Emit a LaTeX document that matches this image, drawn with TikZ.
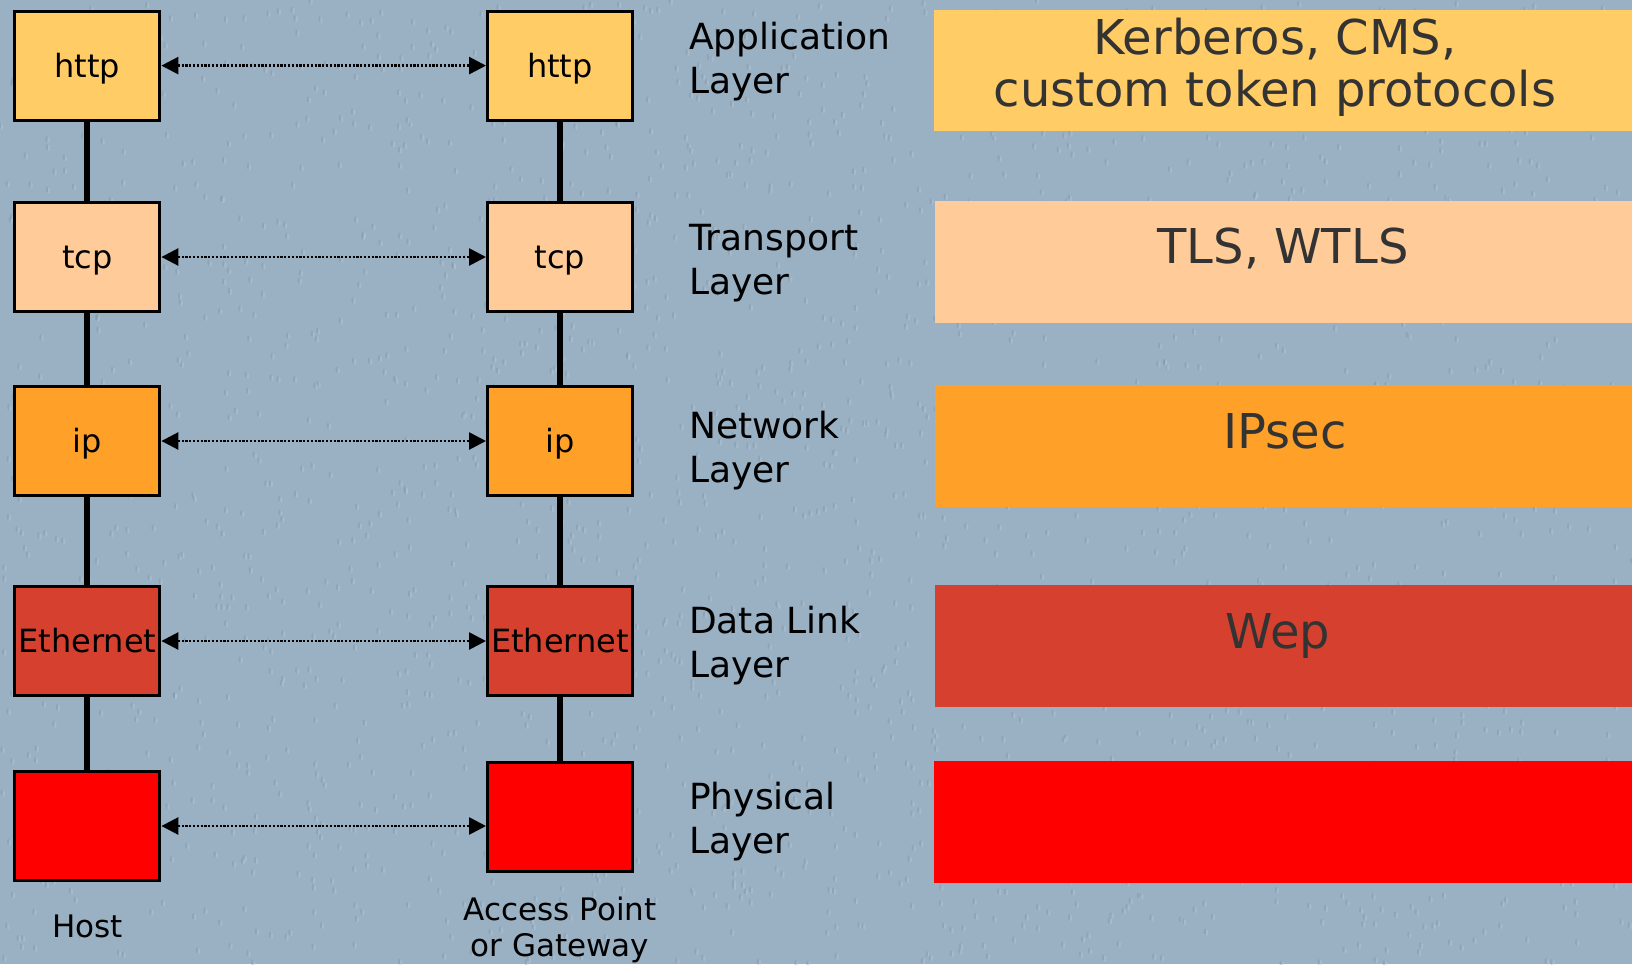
\documentclass[tikz,border=0pt]{standalone}
\usepackage{fontspec}
\setmainfont{DejaVu Sans}
\usetikzlibrary{arrows.meta}
\definecolor{bg}{RGB}{154,176,195}
\definecolor{speckdark}{RGB}{120,142,162}
\definecolor{specklight}{RGB}{190,206,220}
\definecolor{appc}{RGB}{255,204,102}
\definecolor{tcpc}{RGB}{255,204,153}
\definecolor{ipc}{RGB}{255,160,40}
\definecolor{ethc}{RGB}{214,64,46}
\definecolor{phyc}{RGB}{255,0,0}
\definecolor{textgray}{RGB}{51,51,51}
\tikzset{
  box/.style={draw=black, line width=3pt, minimum width=145pt, minimum height=109pt, inner sep=0pt, text height=23pt, text depth=0pt, font=\fontsize{32}{36}\selectfont},
  link/.style={line width=6pt},
  tipstyle/.style={line width=0pt, dash pattern=},
  peer/.style={line width=2.7pt, dash pattern=on 2.3pt off 1.5pt, {Triangle[length=17pt,width=17pt,sep=0pt]}-{Triangle[length=17pt,width=17pt,sep=0pt]}},
  bar/.style={inner sep=0pt, minimum width=698.4pt, minimum height=121.7pt, anchor=north west},
  layer/.style={anchor=west, align=left, inner sep=0pt, font=\fontsize{36}{44}\selectfont},
  bartext/.style={align=center, inner sep=0pt, text=textgray, font=\fontsize{48}{52}\selectfont},
  caption/.style={align=center, inner sep=0pt, font=\fontsize{31}{36.4}\selectfont}
}
\begin{document}
\begin{tikzpicture}[x=1pt,y=-1pt]
\fill[bg] (0,0) rectangle (1632,964);
\useasboundingbox (0,0) rectangle (1632,964);
% paper texture
\pgfmathsetseed{7}
\foreach \i in {1,...,2200}{
  \pgfmathsetmacro\xx{rnd*1632}
  \pgfmathsetmacro\yy{rnd*964}
  \fill[speckdark, opacity=0.35] (\xx,\yy) ellipse (1.2pt and 3pt);
  \fill[specklight, opacity=0.35] (\xx+2,\yy+1) ellipse (1.2pt and 3pt);
}

% host stack
\node[box, fill=appc] (hHttp) at (87.4,65.6) {http};
\node[box, fill=tcpc] (hTcp) at (87.4,257) {tcp};
\node[box, fill=ipc] (hIp) at (87.4,441) {ip};
\node[box, fill=ethc] (hEth) at (87.4,641) {Ethernet};
\node[box, fill=phyc] (hPhy) at (87.4,826) {};

% gateway stack
\node[box, fill=appc] (gHttp) at (560,65.6) {http};
\node[box, fill=tcpc] (gTcp) at (560,257) {tcp};
\node[box, fill=ipc] (gIp) at (560,441) {ip};
\node[box, fill=ethc] (gEth) at (560,641) {Ethernet};
\node[box, fill=phyc] (gPhy) at (560,817) {};

% vertical links
\draw[link] (hHttp) -- (hTcp);
\draw[link] (hTcp) -- (hIp);
\draw[link] (hIp) -- (hEth);
\draw[link] (hEth) -- (hPhy);
\draw[link] (gHttp) -- (gTcp);
\draw[link] (gTcp) -- (gIp);
\draw[link] (gIp) -- (gEth);
\draw[link] (gEth) -- (gPhy);

% peer arrows
\draw[peer] (hHttp.east) -- (gHttp.west);
\draw[peer] (hTcp.east) -- (gTcp.west);
\draw[peer] (hIp.east) -- (gIp.west);
\draw[peer] (hEth.east) -- (gEth.west);
\draw[peer] (hPhy.east) -- (hPhy.east -| gPhy.west);

% captions
\node[caption] (host) at (87.4,926) {Host};
\node[caption] (gw) at (560,930) {Access Point\\or Gateway};

% layer labels
\node[layer] (lApp) at (689,62) {Application\\Layer};
\node[layer] (lTr) at (689,263) {Transport\\Layer};
\node[layer] (lNet) at (689,450.5) {Network\\Layer};
\node[layer] (lDl) at (689,645.5) {Data Link\\Layer};
\node[layer] (lPh) at (689,821.5) {Physical\\Layer};

% bars
\node[bar, fill=appc] (bApp) at (933.6,9.4) {};
\node[bar, fill=tcpc] (bTr) at (934.6,201) {};
\node[bar, fill=ipc] (bNet) at (934.6,385) {};
\node[bar, fill=ethc] (bDl) at (934.6,585) {};
\node[bar, fill=phyc] (bPh) at (933.6,761) {};

\node[bartext] (tApp) at (1275,67.5) {Kerberos, CMS,\\custom token protocols};
\node[bartext] (tTr) at (1283,248.7) {TLS, WTLS};
\node[bartext] (tNet) at (1285,431) {IPsec};
\node[bartext] (tDl) at (1278,636) {Wep};
\end{tikzpicture}
\end{document}
